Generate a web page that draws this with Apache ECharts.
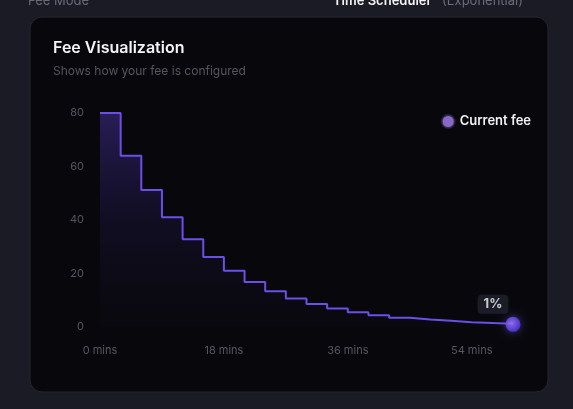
<!DOCTYPE html>
<html>
<head>
<meta charset="utf-8">
<script src="https://cdn.jsdelivr.net/npm/echarts@6/dist/echarts.min.js"></script>
<style>
  html, body { margin: 0; padding: 0; background: #1b1b25; }
  #chart { width: 573px; height: 409px; }
</style>
</head>
<body>
<div id="chart"></div>
<script>
// minutes since start, one step every 3 mins
const minutes = [0, 3, 6, 9, 12, 15, 18, 21, 24, 27, 30, 33, 36, 39, 42, 45, 48, 51, 54, 57, 60];
// fee in % at each step
const fees = [80, 64, 51.2, 41, 32.8, 26.2, 21, 16.8, 13.4, 10.7, 8.6, 6.9, 5.5, 4.4, 3.5, 2.8, 2.3, 1.8, 1.5, 1.2, 1];
const currentFee = [60, 1];
const currentLabel = '1%';

const feeData = minutes.map((m, i) => [m, fees[i]]);
const font = 'Inter, "Noto Sans", sans-serif';

const chart = echarts.init(document.getElementById('chart'));

const option = {
    backgroundColor: '#1b1b25',
    textStyle: { fontFamily: font },
    graphic: [
        {
            type: 'rect',
            z: -10,
            shape: { x: 30, y: 17, width: 518, height: 375, r: 12 },
            style: { fill: '#08080c', stroke: '#262633', lineWidth: 1 },
        },
        {
            type: 'text',
            x: 28, y: 1,
            style: { text: 'Fee Mode', fill: '#6b6b78', font: '13px ' + font, verticalAlign: 'middle' },
        },
        {
            type: 'text',
            x: 333, y: 1,
            style: { text: 'Time Scheduler', fill: '#f2f2f5', font: '600 13px ' + font, verticalAlign: 'middle' },
        },
        {
            type: 'text',
            x: 442, y: 1,
            style: { text: '(Exponential)', fill: '#6b6b78', font: '13px ' + font, verticalAlign: 'middle' },
        },
    ],
    title: {
        text: 'Fee Visualization',
        subtext: 'Shows how your fee is configured',
        left: 48,
        top: 35,
        itemGap: 9,
        textStyle: { color: '#f4f4f6', fontSize: 16, fontWeight: 600, fontFamily: font },
        subtextStyle: { color: '#55555f', fontSize: 12, fontFamily: font },
    },
    legend: {
        right: 37,
        top: 109,
        icon: 'circle',
        itemWidth: 13,
        itemHeight: 13,
        itemGap: 8,
        itemStyle: { color: '#a583f7', borderColor: '#2a2240', borderWidth: 2 },
        textStyle: { color: '#f2f2f5', fontSize: 13, fontWeight: 600, fontFamily: font },
        data: ['Current fee'],
    },
    grid: {
        left: 100,
        right: 60,
        top: 113,
        bottom: 82,
    },
    xAxis: {
        type: 'value',
        min: 0,
        max: 60,
        interval: 18,
        axisLine: { show: false },
        axisTick: { show: false },
        splitLine: { show: false },
        axisLabel: {
            color: '#55555f',
            fontSize: 11,
            margin: 18,
            showMaxLabel: false,
            formatter: v => v + ' mins',
        },
    },
    yAxis: {
        type: 'value',
        min: 0,
        max: 80,
        interval: 20,
        axisLine: { show: false },
        axisTick: { show: false },
        splitLine: { show: false },
        axisLabel: { color: '#55555f', fontSize: 11, margin: 16 },
    },
    series: [
        {
            name: 'Fee',
            type: 'line',
            step: 'end',
            data: feeData,
            showSymbol: false,
            silent: true,
            lineStyle: { color: '#6c4ee8', width: 2 },
            areaStyle: {
                color: new echarts.graphic.LinearGradient(0, 0, 0, 1, [
                    { offset: 0, color: 'rgba(100, 70, 225, 0.5)' },
                    { offset: 0.5, color: 'rgba(65, 45, 160, 0.22)' },
                    { offset: 1, color: 'rgba(40, 30, 90, 0.04)' },
                ]),
            },
        },
        {
            name: 'Current fee',
            type: 'scatter',
            data: [currentFee],
            symbolSize: 15,
            z: 5,
            itemStyle: {
                color: new echarts.graphic.RadialGradient(0.4, 0.4, 0.6, [
                    { offset: 0, color: '#9b7bff' },
                    { offset: 1, color: '#5a36e6' },
                ]),
                shadowColor: 'rgba(110, 80, 240, 0.7)',
                shadowBlur: 8,
            },
            label: {
                show: true,
                position: 'top',
                distance: 3,
                formatter: currentLabel,
                color: '#f4f4f6',
                fontSize: 13,
                fontWeight: 700,
                fontFamily: font,
                backgroundColor: '#22222f',
                borderRadius: 4,
                padding: [3, 6],
                offset: [-20, 0],
            },
        },
    ],
};

chart.setOption(option);
</script>
</body>
</html>
